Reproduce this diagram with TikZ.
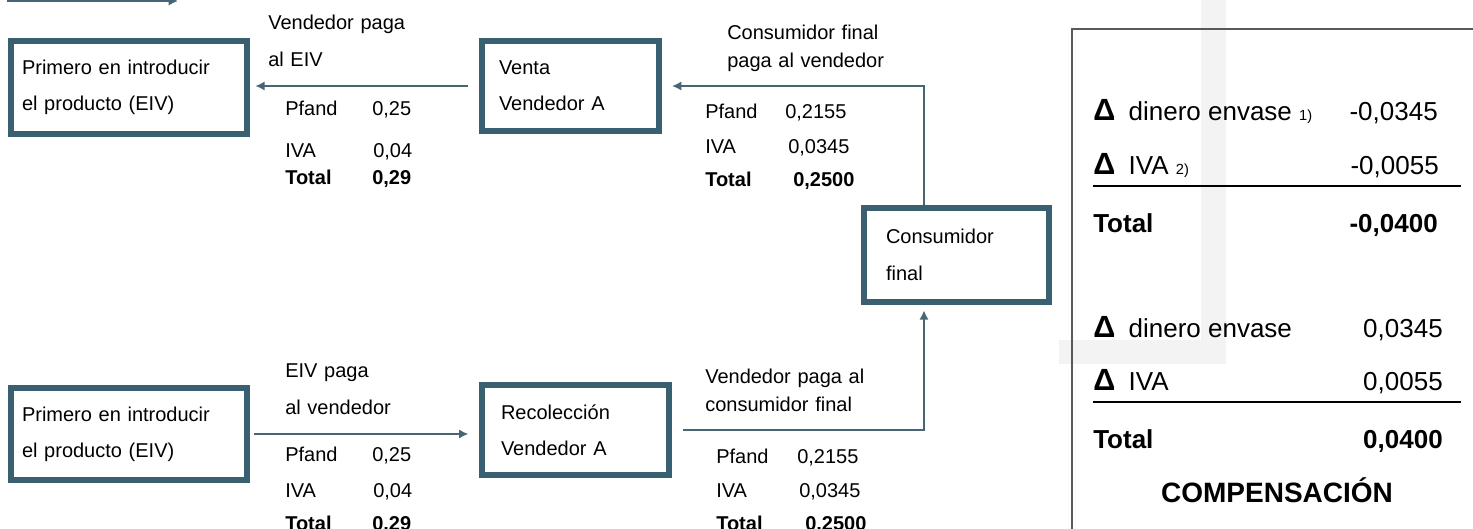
\documentclass[tikz,border=0pt]{standalone}
\usepackage{fontspec}
\setmainfont{Liberation Sans}
\usetikzlibrary{arrows.meta,positioning}

\definecolor{azulcaja}{RGB}{56,96,112}
\definecolor{azulflecha}{RGB}{70,102,118}
\definecolor{grisbanda}{RGB}{243,243,243}

\tikzset{
  caja/.style={draw=azulcaja,line width=4.5pt,align=left,inner ysep=0pt,font=\fontsize{15}{27}\selectfont},
  flecha/.style={draw=azulflecha,line width=2.2pt,->},
  rotulo/.style={anchor=base west,inner sep=0pt,text width=150pt,align=left,font=\fontsize{15}{#1}\selectfont},
  dato/.style={anchor=base west,inner sep=0pt,font=\fontsize{15}{18}\selectfont},
  resumen/.style={inner sep=0pt,font=\fontsize{19.5}{22}\selectfont},
  regla/.style={line width=1.1pt}
}
\newcommand{\deltavar}{{\fontsize{23}{23}\selectfont\bfseries Δ}\hspace{10pt}}

\begin{document}
\begin{tikzpicture}[x=0.75pt,y=-0.75pt,>={Latex[length=7pt,width=7pt]}]
\useasboundingbox (0,0) rectangle (1473,528);
\clip (0,0) rectangle (1473,528);

% cajas
\node[caja,text width=160.5pt,inner xsep=8.25pt,minimum height=69.75pt] (primA) at (129,87.5) {Primero en introducir\\el producto (EIV)};
\node[caja,text width=107.25pt,inner xsep=12.75pt,minimum height=67.5pt] (venta) at (570.5,86) {Venta\\Vendedor A};
\node[caja,text width=105.75pt,inner xsep=16.5pt,minimum height=70.5pt,font=\fontsize{15}{27.75}\selectfont] (cons) at (956.5,255) {Consumidor\\final};
\node[caja,text width=111.75pt,inner xsep=14.25pt,minimum height=67.5pt] (reco) at (575.5,430) {Recolección\\Vendedor A};
\node[caja,text width=160.5pt,inner xsep=8.25pt,minimum height=69pt] (primB) at (129,434) {Primero en introducir\\el producto (EIV)};

% flechas
\coordinate (iniT) at (7,1);
\coordinate (finT) at (178,1);
\draw[flecha] (iniT) -- (finT);
\draw[flecha,shorten <=8pt,shorten >=4pt] (venta.west) -- (venta.west -| primA.east);
\draw[flecha,shorten >=7.5pt] ([xshift=-24.4pt]cons.north) |- (venta.east);
\draw[flecha,shorten <=3pt,shorten >=8pt] (primB.east) -- (primB.east -| reco.west);
\draw[flecha,shorten <=8pt,shorten >=4pt] (reco.east) -| ([xshift=-24.4pt]cons.south);

% rotulos
\node[rotulo=27.75pt] (lblA) at (268,30) {Vendedor paga\\al EIV};
\node[rotulo=21pt] (lblB) at (727,40) {Consumidor final\\paga al vendedor};
\node[rotulo=27.75pt] (lblC) at (285,377) {EIV paga\\al vendedor};
\node[rotulo=21pt] (lblD) at (705,383) {Vendedor paga al\\consumidor final};

% importes
\foreach \et/\va/\y/\vx/\gr [count=\i] in {Pfand/{0,25}/115/372/\mdseries, IVA/{0,04}/157/373/\mdseries, Total/{0,29}/184/372/\bfseries}{
  \node[dato] (tA-e\i) at (285,\y) {\gr \et};
  \node[dato] (tA-v\i) at (\vx,\y) {\gr \va};
}
\foreach \et/\va/\y/\vx/\gr [count=\i] in {Pfand/{0,2155}/118/785/\mdseries, IVA/{0,0345}/153/788/\mdseries, Total/{0,2500}/186/793/\bfseries}{
  \node[dato] (tB-e\i) at (705,\y) {\gr \et};
  \node[dato] (tB-v\i) at (\vx,\y) {\gr \va};
}
\foreach \et/\va/\y/\vx/\gr [count=\i] in {Pfand/{0,25}/461/372/\mdseries, IVA/{0,04}/497/373/\mdseries, Total/{0,29}/530/372/\bfseries}{
  \node[dato] (tC-e\i) at (285,\y) {\gr \et};
  \node[dato] (tC-v\i) at (\vx,\y) {\gr \va};
}
\foreach \et/\va/\y/\vx/\gr [count=\i] in {Pfand/{0,2155}/463/797/\mdseries, IVA/{0,0345}/497/799/\mdseries, Total/{0,2500}/530/805/\bfseries}{
  \node[dato] (tD-e\i) at (716,\y) {\gr \et};
  \node[dato] (tD-v\i) at (\vx,\y) {\gr \va};
}

% cuadro de compensacion
\fill[grisbanda] (1201,0) rectangle (1226,363);
\fill[grisbanda] (1059,340) rectangle (1226,364);
\draw[gray!70!black,line width=1.1pt] (1072,600) -- (1072,29) -- (1500,29);

\node[resumen,anchor=base west] (d1) at (1093,120) {\deltavar dinero envase {\fontsize{11}{11}\selectfont 1)}};
\node[resumen,anchor=base east] (v1) at (1438,120) {-0,0345};
\node[resumen,anchor=base west] (d2) at (1093,174) {\deltavar IVA {\fontsize{11}{11}\selectfont 2)}};
\node[resumen,anchor=base east] (v2) at (1439,174) {-0,0055};
\draw[regla] (1093,186) -- (1461,186);
\node[resumen,anchor=base west,font=\fontsize{19.5}{22}\selectfont\bfseries] (s1) at (1093,232) {Total};
\node[resumen,anchor=base east,font=\fontsize{19.5}{22}\selectfont\bfseries] (w1) at (1438,232) {-0,0400};

\node[resumen,anchor=base west] (d3) at (1093,337) {\deltavar dinero envase};
\node[resumen,anchor=base east] (v3) at (1443,337) {0,0345};
\node[resumen,anchor=base west] (d4) at (1093,390) {\deltavar IVA};
\node[resumen,anchor=base east] (v4) at (1443,390) {0,0055};
\draw[regla] (1093,402) -- (1461,402);
\node[resumen,anchor=base west,font=\fontsize{19.5}{22}\selectfont\bfseries] (s2) at (1093,448) {Total};
\node[resumen,anchor=base east,font=\fontsize{19.5}{22}\selectfont\bfseries] (w2) at (1443,448) {0,0400};
\node[resumen,anchor=base,font=\fontsize{21}{22}\selectfont\bfseries] (comp) at (1277,502) {COMPENSACIÓN};

\end{tikzpicture}
\end{document}
